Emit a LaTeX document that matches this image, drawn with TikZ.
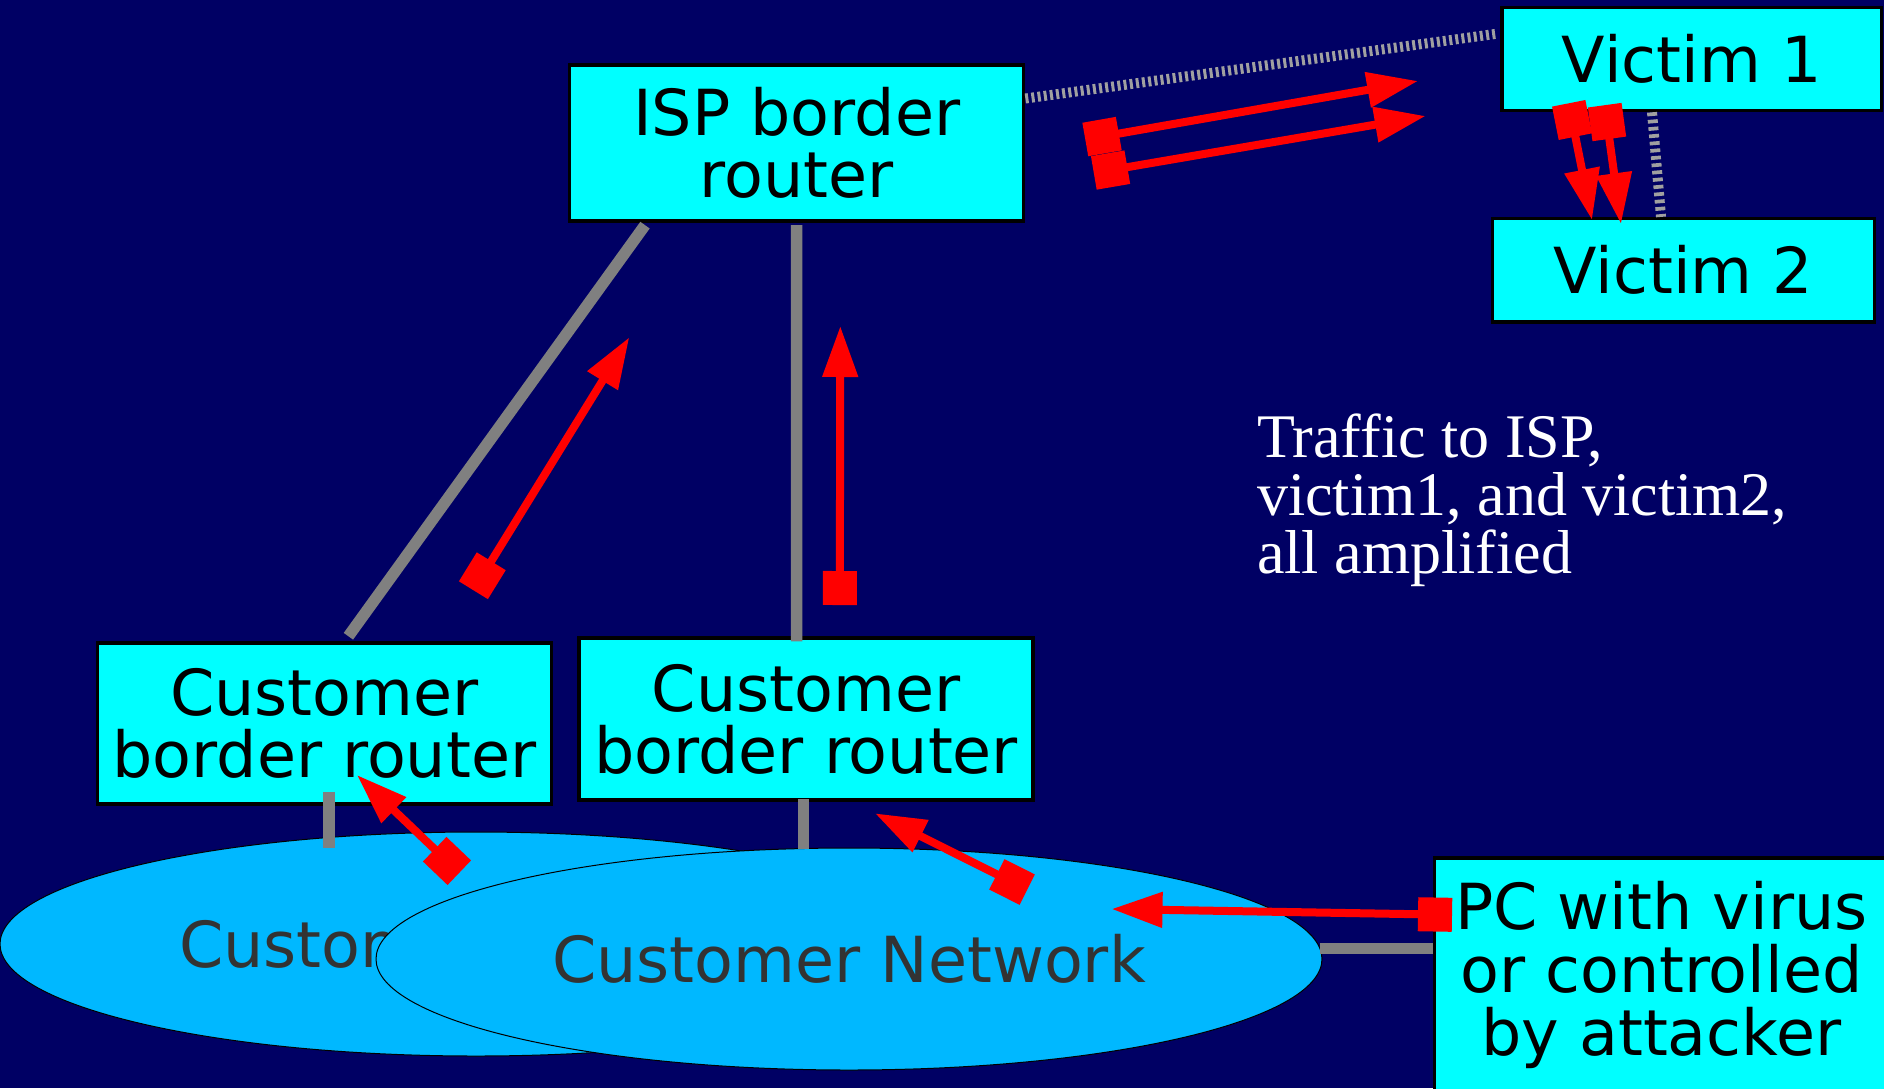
\documentclass[tikz,border=0pt]{standalone}
\usepackage{fontspec}
\setmainfont{DejaVu Sans}
\newfontfamily\trafficfont{Liberation Serif}
\usetikzlibrary{arrows.meta,calc,shapes.geometric}
\definecolor{bgnavy}{RGB}{0,0,100}
\definecolor{boxcyan}{RGB}{0,255,255}
\definecolor{netblue}{RGB}{0,184,255}
\definecolor{nettext}{RGB}{51,51,51}
\definecolor{linkgray}{RGB}{128,128,128}
\definecolor{dotgray}{RGB}{160,160,160}
\definecolor{flowred}{RGB}{255,0,0}
\begin{document}
\begin{tikzpicture}[x=1pt,y=-1pt,
  devbox/.style={draw=black, line width=3.5pt, fill=boxcyan, inner sep=0pt, align=center,
    font=\fontsize{63.5}{62}\selectfont, text=black},
  netcloud/.style={ellipse, draw=black, line width=1pt, fill=netblue, inner sep=0pt,
    font=\fontsize{63.5}{62}\selectfont, text=nettext},
  link/.style={draw=linkgray, line width=11.5pt},
  dotlink/.style={draw=dotgray, line width=10pt, dash pattern=on 3pt off 3.2pt},
  flow/.style={draw=flowred, line width=8pt,
    {Square[length=34pt,width=34pt]}-{Triangle[length=51pt,width=34pt]}},
  note/.style={anchor=base west, inner sep=0pt, text=white,
    font=\trafficfont\fontsize{62}{58}\selectfont}]
\useasboundingbox (0,0) rectangle (1884,1088);
\clip (0,0) rectangle (1884,1088);
\fill[bgnavy] (0,0) rectangle (1884,1088);

% networks
\node[netcloud, minimum width=952pt, minimum height=224pt] (netl) at (476,944) {Customer Network};
\node[netcloud, minimum width=946pt, minimum height=222pt] (netr) at (849,959) {Customer Network};

% devices
\node[devbox, minimum width=454pt, minimum height=156pt] (isp) at (796.6,143) {ISP border\\router};
\node[devbox, minimum width=379.6pt, minimum height=103.3pt] (v1) at (1691.7,58.9) {Victim 1};
\node[devbox, minimum width=382pt, minimum height=103.3pt] (v2) at (1683.3,270.3) {Victim 2};
\node[devbox, minimum width=454pt, minimum height=161pt] (cbl) at (324.4,723.3) {Customer\\border router};
\node[devbox, minimum width=454pt, minimum height=162pt] (cbm) at (806.2,719.1) {Customer\\border router};
\node[devbox, minimum width=453.4pt, minimum height=234pt, font=\fontsize{63.5}{63}\selectfont] (pc) at (1661.3,975) {PC with virus\\or controlled\\by attacker};

% links
\draw[link] ($(isp.south)+(-151.6,2.4)$) -- ($(cbl.north)+(24,-4.8)$);
\draw[link] ($(isp.south)+(0,2.4)$) -- ($(cbm.north)+(-9.6,5)$);
\draw[link] ($(cbl.south)+(4.6,-13.8)$) -- ($(cbl.south)+(4.6,42)$);
\draw[link] ($(cbm.south)+(-2.6,-2.5)$) -- ($(cbm.south)+(-2.6,47.1)$);
\draw[link] ($(pc.west)+(-113,-26.5)$) -- ($(pc.west)+(0,-26.5)$);
\draw[dotlink] ($(isp.east)+(0,-44.5)$) -- ($(v1.west)+(-2.5,-25.3)$);
\draw[dotlink, line width=10pt, dash pattern=on 3.7pt off 3.6pt] ($(v1.south)+(-39.7,0)$) -- ($(v2.north)+(-22.3,0)$);

% traffic flows
\coordinate (f1s) at (473.4,590.2);   \coordinate (f1e) at (629.3,337.3);
\coordinate (f2s) at (839.8,605);     \coordinate (f2e) at (840.3,326);
\coordinate (f3s) at (1085.3,139.5);  \coordinate (f3e) at (1418,81);
\coordinate (f4s) at (1093.8,172.9);  \coordinate (f4e) at (1425.6,116);
\coordinate (f5s) at (1568.7,103.3);  \coordinate (f5e) at (1592,220);
\coordinate (f6s) at (1604.7,105.2);  \coordinate (f6e) at (1621,224);
\coordinate (f7s) at (459.3,872.7);   \coordinate (f7e) at (357,775);
\coordinate (f8s) at (1027.2,889.6);  \coordinate (f8e) at (875,813.3);
\coordinate (f9s) at (1452,914.8);    \coordinate (f9e) at (1111.5,909);
\draw[flow] (f1s) -- (f1e);
\draw[flow] (f2s) -- (f2e);
\draw[flow] (f3s) -- (f3e);
\draw[flow] (f4s) -- (f4e);
\draw[flow] (f5s) -- (f5e);
\draw[flow] (f6s) -- (f6e);
\draw[flow] (f7s) -- (f7e);
\draw[flow] (f8s) -- (f8e);
\draw[flow] (f9s) -- (f9e);

% note
\node[note] (t1) at (1256.8,457.8) {Traffic to ISP,};
\node[note] (t2) at (1256.8,515.4) {victim1, and victim2,};
\node[note] (t3) at (1256.8,573) {all amplified};
\end{tikzpicture}
\end{document}
